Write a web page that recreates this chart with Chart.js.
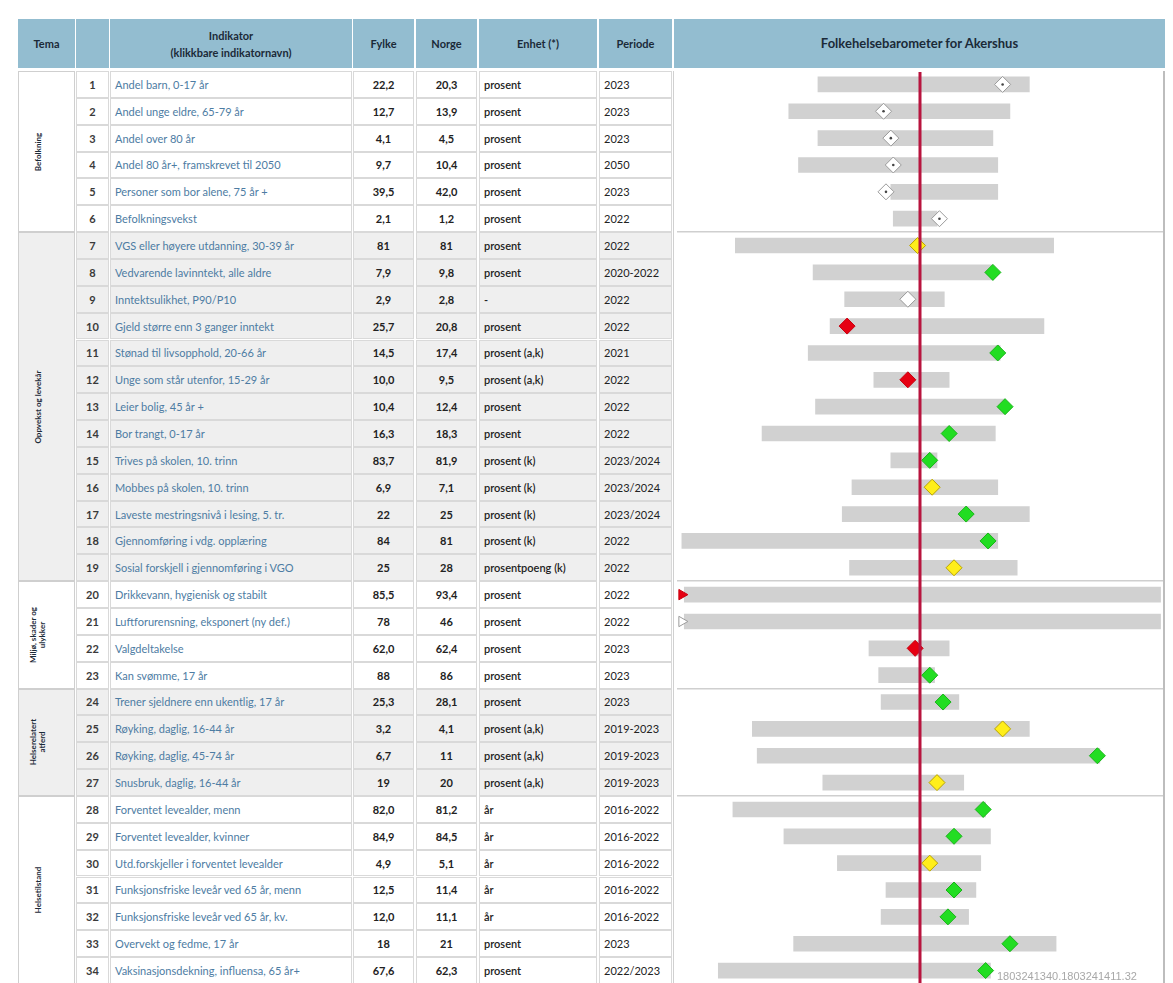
<!DOCTYPE html>
<html><head><meta charset="utf-8">
<script src="https://cdn.jsdelivr.net/npm/chart.js@4.4.1/dist/chart.umd.min.js"></script>
<style>
body{margin:0;width:1173px;height:983px;overflow:hidden;background:#fff;font-family:Lato,'Open Sans',sans-serif;position:relative}
.h{position:absolute;top:19px;height:49px;background:#93bdd0;color:#1b2a38;font-weight:bold;font-size:11px;display:flex;align-items:center;justify-content:center;text-align:center;line-height:17px}
.c{position:absolute;box-sizing:border-box;border:1px solid #d9d9d9;font-size:11px;display:flex;align-items:center;white-space:nowrap;overflow:hidden}
.tema{position:absolute;box-sizing:border-box;border:1px solid #cfcfcf}
.tema span{position:absolute;left:50%;top:50%;transform:translate(-50%,-50%) rotate(-90deg);font-size:8px;font-weight:bold;color:#1b2a38;white-space:nowrap;text-align:center;line-height:9px}
#chartbox{position:absolute;left:673px;top:71px;width:492px;height:913px;box-sizing:border-box;border-left:1px solid #d0d0d0;border-right:2px solid #bdbdbd}
#c{display:block}
#foot{position:absolute;left:997px;top:970px;font-size:11px;color:#a8a8a8;font-family:'Liberation Sans',sans-serif}
</style></head><body>
<div id="hdr"></div>
<div id="tbl"></div>
<div id="chartbox"><canvas id="c" width="489" height="913"></canvas></div>
<div id="foot">1803241340.1803241411.32</div>
<script>
// ---------- data ----------
const radNr = [1,2,3,4,5,6,7,8,9,10,11,12,13,14,15,16,17,18,19,20,21,22,23,24,25,26,27,28,29,30,31,32,33,34];
const indikator = [
 'Andel barn, 0-17 år','Andel unge eldre, 65-79 år','Andel over 80 år','Andel 80 år+, framskrevet til 2050',
 'Personer som bor alene, 75 år +','Befolkningsvekst','VGS eller høyere utdanning, 30-39 år','Vedvarende lavinntekt, alle aldre',
 'Inntektsulikhet, P90/P10','Gjeld større enn 3 ganger inntekt','Stønad til livsopphold, 20-66 år','Unge som står utenfor, 15-29 år',
 'Leier bolig, 45 år +','Bor trangt, 0-17 år','Trives på skolen, 10. trinn','Mobbes på skolen, 10. trinn',
 'Laveste mestringsnivå i lesing, 5. tr.','Gjennomføring i vdg. opplæring','Sosial forskjell i gjennomføring i VGO',
 'Drikkevann, hygienisk og stabilt','Luftforurensning, eksponert (ny def.)','Valgdeltakelse','Kan svømme, 17 år',
 'Trener sjeldnere enn ukentlig, 17 år','Røyking, daglig, 16-44 år','Røyking, daglig, 45-74 år','Snusbruk, daglig, 16-44 år',
 'Forventet levealder, menn','Forventet levealder, kvinner','Utd.forskjeller i forventet levealder',
 'Funksjonsfriske leveår ved 65 år, menn','Funksjonsfriske leveår ved 65 år, kv.','Overvekt og fedme, 17 år',
 'Vaksinasjonsdekning, influensa, 65 år+'];
const fylke = ['22,2','12,7','4,1','9,7','39,5','2,1','81','7,9','2,9','25,7','14,5','10,0','10,4','16,3','83,7','6,9','22','84','25','85,5','78','62,0','88','25,3','3,2','6,7','19','82,0','84,9','4,9','12,5','12,0','18','67,6'];
const norge = ['20,3','13,9','4,5','10,4','42,0','1,2','81','9,8','2,8','20,8','17,4','9,5','12,4','18,3','81,9','7,1','25','81','28','93,4','46','62,4','86','28,1','4,1','11','20','81,2','84,5','5,1','11,4','11,1','21','62,3'];
const enhet = ['prosent','prosent','prosent','prosent','prosent','prosent','prosent','prosent','-','prosent','prosent (a,k)','prosent (a,k)','prosent','prosent','prosent (k)','prosent (k)','prosent (k)','prosent (k)','prosentpoeng (k)','prosent','prosent','prosent','prosent','prosent','prosent (a,k)','prosent (a,k)','prosent (a,k)','år','år','år','år','år','prosent','prosent'];
const periode = ['2023','2023','2023','2050','2023','2022','2022','2020-2022','2022','2022','2021','2022','2022','2022','2023/2024','2023/2024','2023/2024','2022','2022','2022','2022','2023','2023','2023','2019-2023','2019-2023','2019-2023','2016-2022','2016-2022','2016-2022','2016-2022','2016-2022','2023','2022/2023'];
const temaNavn = ['Befolkning','Oppvekst og levekår','Miljø, skader og<br>ulykker','Helserelatert<br>atferd','Helsetilstand'];
const temaFra = [1,7,20,24,28];
const temaTil = [6,19,23,27,34];
// barometer (standardised scale, red line = 0)
const barMin = [-42,-54,-42,-50,-12,-11,-76,-44,-31,-37,-46,-19,-43,-65,-12,-28,-32,-98,-29,-97,-97,-21,-17,-16,-69,-67,-40,-77,-56,-34,-14,-16,-52,-83];
const barMax = [45,37,30,32,32,7,55,30,10,51,33,12,35,31,7,32,45,32,40,99,99,12,6,16,45,74,18,27,29,25,23,20,56,29];
const markor = [34,-15,-12,-11,-14,8,-1,30,-5,-30,32,-5,35,12,4,5,19,28,14,-98,-98,-2,4,9.5,34,73,7,26,14,4,14,11.5,37,27];
const status = ['n','n','n','n','n','n','gul','grønn','hvit','rød','grønn','rød','grønn','grønn','grønn','gul','grønn','grønn','gul','rød','hvit','rød','grønn','grønn','gul','grønn','gul','grønn','grønn','gul','grønn','grønn','grønn','grønn'];
const utenforSkala = [20,21];

// ---------- table ----------
const ROW0 = 71, RH = 26.85;
const cols = {tema:[18,57],nr:[76,33],ind:[110,242],fy:[353,61],no:[416,61],en:[479,118],pe:[599,73],ch:[674,491]};
const hdr = document.getElementById('hdr');
function H(k, html, fs){const d=document.createElement('div');d.className='h';d.style.left=cols[k][0]+'px';d.style.width=cols[k][1]+'px';if(fs)d.style.fontSize=fs;d.innerHTML=html;hdr.appendChild(d);}
H('tema','Tema');H('nr','');H('ind','Indikator<br>(klikkbare indikatornavn)');H('fy','Fylke');H('no','Norge');H('en','Enhet (*)');H('pe','Periode');H('ch','Folkehelsebarometer for Akershus','13px');
const tbl = document.getElementById('tbl');
const greyRow = new Array(35).fill(false);
temaNavn.forEach((t,i)=>{
  const grey = i%2===1;
  for(let r=temaFra[i];r<=temaTil[i];r++) greyRow[r]=grey;
  const d=document.createElement('div');d.className='tema';
  const y0=ROW0+(temaFra[i]-1)*RH, y1=ROW0+temaTil[i]*RH;
  d.style.left=cols.tema[0]+'px';d.style.width=cols.tema[1]+'px';d.style.top=y0+'px';d.style.height=(y1-y0)+'px';
  d.style.background=grey?'#efefef':'#fff';
  d.innerHTML='<span style="margin-left:-9px">'+t+'</span>';
  tbl.appendChild(d);
});
function C(k,r,txt,st){const d=document.createElement('div');d.className='c';d.style.left=cols[k][0]+'px';d.style.width=cols[k][1]+'px';d.style.top=(ROW0+(r-1)*RH)+'px';d.style.height=RH+'px';d.style.background=greyRow[r]?'#efefef':'#fff';d.style.cssText+=st;d.textContent=txt;tbl.appendChild(d);}
radNr.forEach((n,i)=>{
  C('nr',n,String(n),'justify-content:center;font-weight:bold;color:#3a3a3a;');
  C('ind',n,indikator[i],'padding-left:4px;color:#4d7ca3;');
  C('fy',n,fylke[i],'justify-content:center;font-weight:bold;color:#222;');
  C('no',n,norge[i],'justify-content:center;font-weight:bold;color:#222;');
  C('en',n,enhet[i],'padding-left:4px;color:#222;font-weight:600;');
  C('pe',n,periode[i],'padding-left:4px;color:#222;');
});

// ---------- chart ----------
const fill = {n:'#ffffff',hvit:'#ffffff',gul:'#ffee1a',grønn:'#22dd22',rød:'#e60012'};
const edge = {n:'#9a9a9a',hvit:'#9a9a9a',gul:'#b9a400',grønn:'#18b418',rød:'#c8000f'};
const labels = radNr.map(String);
const styles = radNr.map(n=>utenforSkala.includes(n)?'triangle':'rectRot');
const rots = radNr.map(n=>utenforSkala.includes(n)?90:0);
const radii = radNr.map(n=>utenforSkala.includes(n)?6:8);
const sepAfter = temaTil.slice(0,-1);

const redLine = {id:'redLine',afterDatasetsDraw(ch){const x=ch.scales.x.getPixelForValue(0);const a=ch.chartArea;const c=ch.ctx;c.save();c.strokeStyle='#b8143e';c.lineWidth=3;c.beginPath();c.moveTo(x,a.top+1);c.lineTo(x,a.bottom);c.stroke();c.restore();}};

new Chart(document.getElementById('c'),{
  type:'bar',
  data:{labels,datasets:[
    {type:'line',label:'prikk',data:markor.map((v,i)=>status[i]==='n'?v:null),showLine:false,pointStyle:'circle',pointRadius:1.3,pointBackgroundColor:'#444',pointBorderWidth:0,order:0,clip:false},
    {type:'line',label:'Fylke',data:markor,showLine:false,pointStyle:styles,pointRotation:rots,pointRadius:radii,
     pointBackgroundColor:status.map(s=>fill[s]),pointBorderColor:status.map(s=>edge[s]),pointBorderWidth:1,order:1,clip:false},
    {type:'bar',label:'Spredning',data:barMin.map((v,i)=>[v,barMax[i]]),backgroundColor:'#d1d1d1',barThickness:15,order:2}
  ]},
  options:{indexAxis:'y',responsive:false,maintainAspectRatio:false,animation:false,events:[],devicePixelRatio:1,
    layout:{autoPadding:false,padding:{left:3,right:0,top:0,bottom:0}},
    plugins:{legend:{display:false},tooltip:{enabled:false}},
    scales:{
      x:{display:false,min:-100,max:100},
      y:{display:true,ticks:{display:false,padding:0},border:{display:false},
         grid:{drawTicks:false,tickLength:0,offset:true,lineWidth:1.5,color:ctx=>sepAfter.includes(ctx.index)?'#cfcfcf':'rgba(0,0,0,0)'}}
    }
  },
  plugins:[redLine]
});
</script>
</body></html>
